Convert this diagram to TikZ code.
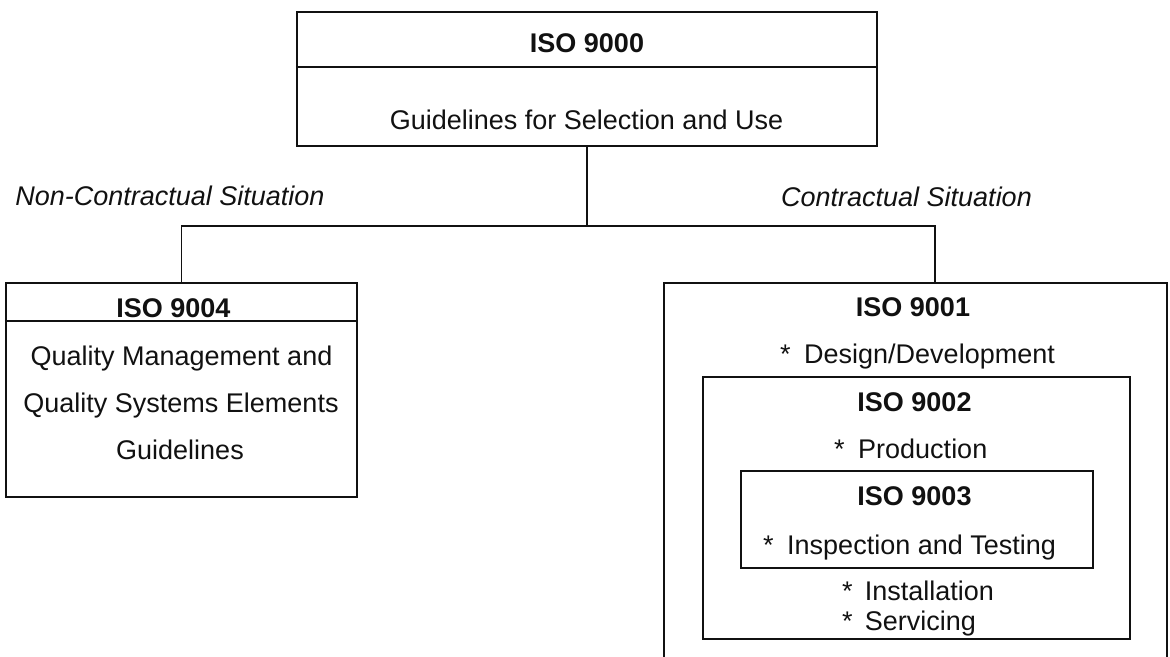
\documentclass[tikz,border=0pt]{standalone}
\usepackage{fontspec}
\setmainfont{Liberation Sans}
\usepackage{xcolor}
\usepackage{tikz}
\definecolor{isoink}{HTML}{111111}
\tikzset{
  frame/.style={draw=isoink,line width=2.1pt,inner sep=0pt,rectangle},
  rule/.style={draw=isoink,line width=2.1pt},
  link/.style={draw=isoink,line width=1.9pt},
  entry/.style={anchor=base,inner sep=0pt,text=isoink,
    font=\fontsize{27}{32}\selectfont},
  title/.style={entry,font=\fontsize{27}{32}\selectfont\bfseries},
  situation/.style={entry,font=\fontsize{27}{32}\selectfont\itshape},
  starred/.style={entry,anchor=base west}
}
\newcommand{\isoitem}[1]{*\hspace{0.5em}#1}

\begin{document}
\begin{tikzpicture}[x=1pt,y=-1pt]
  \useasboundingbox (0,0) rectangle (1170,656);
  \clip (0,0) rectangle (1170,656);
  % boxes
  \node[frame,minimum width=580pt,minimum height=134pt] (iso9000) at (587,79) {};
  \node[frame,minimum width=351pt,minimum height=214pt] (iso9004) at (181.5,390) {};
  \node[frame,minimum width=503pt,minimum height=417pt] (iso9001) at (915.5,491.5) {};
  \node[frame,minimum width=427pt,minimum height=262pt] (iso9002) at (916.5,508) {};
  \node[frame,minimum width=352pt,minimum height=97pt] (iso9003) at (917,519.5) {};
  \draw[rule] ([yshift=-56pt]iso9000.north west) -- ([yshift=-56pt]iso9000.north east);
  \draw[rule] ([yshift=-39pt]iso9004.north west) -- ([yshift=-39pt]iso9004.north east);
  % tree
  \coordinate (fork) at (587,226);
  \coordinate (drop) at (935,226);
  \draw[link] (iso9000.south) -- (fork) -| (iso9004.north);
  \draw[link] (fork) -- (drop) -- (drop |- iso9001.north);
  % texts
  \node[title] (t9000) at (587,52) {ISO 9000};
  \node[entry] (guide) at (586.5,129) {Guidelines for Selection and Use};
  \node[situation] (noncon) at (170,205) {Non-Contractual Situation};
  \node[situation] (con) at (906.5,206) {Contractual Situation};
  \node[title] (t9004) at (173.5,317) {ISO 9004};
  \node[entry] (qm) at (181.5,365) {Quality Management and};
  \node[entry] (qs) at (181,412) {Quality Systems Elements};
  \node[entry] (gl) at (180,459) {Guidelines};
  \node[title] (t9001) at (913,316) {ISO 9001};
  \node[title] (t9002) at (914.5,411) {ISO 9002};
  \node[title] (t9003) at (914.5,505) {ISO 9003};
  \node[starred] (design) at (780,363) {\isoitem{Design/Development}};
  \node[starred] (prod) at (834,458) {\isoitem{Production}};
  \node[starred] (insp) at (763,554) {\isoitem{Inspection and Testing}};
  \foreach \y/\t in {600/Installation,630/Servicing}
    \node[starred] (item\y) at (842,\y) {*\hspace{0.45em}\t};
\end{tikzpicture}
\end{document}
